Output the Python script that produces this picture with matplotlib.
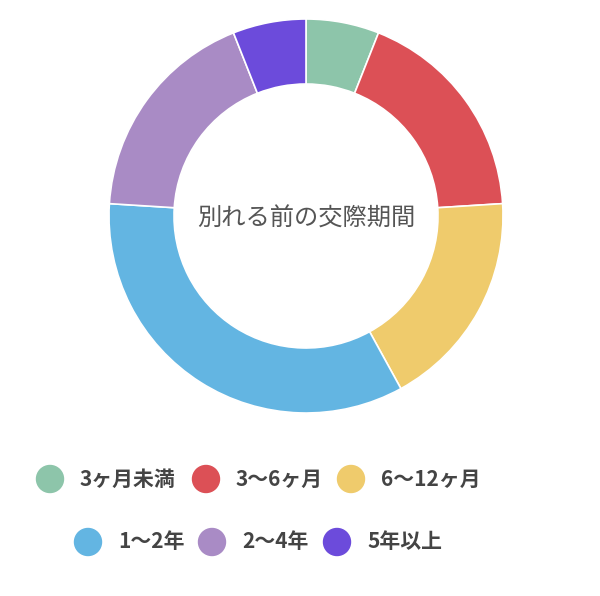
import matplotlib
matplotlib.use("Agg")
import matplotlib.pyplot as plt
from matplotlib.patches import Circle

plt.rcParams['font.family'] = ['Noto Sans CJK JP', 'DejaVu Sans']

title = "別れる前の交際期間"
labels = ["3ヶ月未満", "3〜6ヶ月", "6〜12ヶ月", "1〜2年", "2〜4年", "5年以上"]
values = [6, 18, 18, 34, 18, 6]
colors = ["#8DC5AA", "#DC5056", "#EFCB6C", "#63B5E2", "#A98BC5", "#6C4BDB"]

W, H = 600, 596
fig = plt.figure(figsize=(W / 100, H / 100), dpi=100)

cx, cy, r = 306, 216, 197
ax = fig.add_axes([(cx - r) / W, (H - cy - r) / H, 2 * r / W, 2 * r / H])
ax.pie(values, colors=colors, startangle=90, counterclock=False, radius=1,
       wedgeprops=dict(width=0.33, edgecolor="white", linewidth=1.2))
ax.set_xlim(-1, 1)
ax.set_ylim(-1, 1)
ax.set_aspect("equal")
ax.axis("off")
ax.text(0, -0.015, title, ha="center", va="center", fontsize=17.5, color="#555555")

# legend in pixel coordinates
lax = fig.add_axes([0, 0, 1, 1])
lax.set_xlim(0, W)
lax.set_ylim(H, 0)
lax.axis("off")
marker_x = [50, 206, 351, 88, 212, 337]
row_y = [479, 479, 479, 542, 542, 542]
for lab, col, mx, my in zip(labels, colors, marker_x, row_y):
    lax.add_patch(Circle((mx, my), 13.5, color=col))
    lax.text(mx + 30, my, lab, ha="left", va="center", fontsize=15,
             color="#444444", fontweight="bold")

fig.savefig("out.png", dpi=100)
